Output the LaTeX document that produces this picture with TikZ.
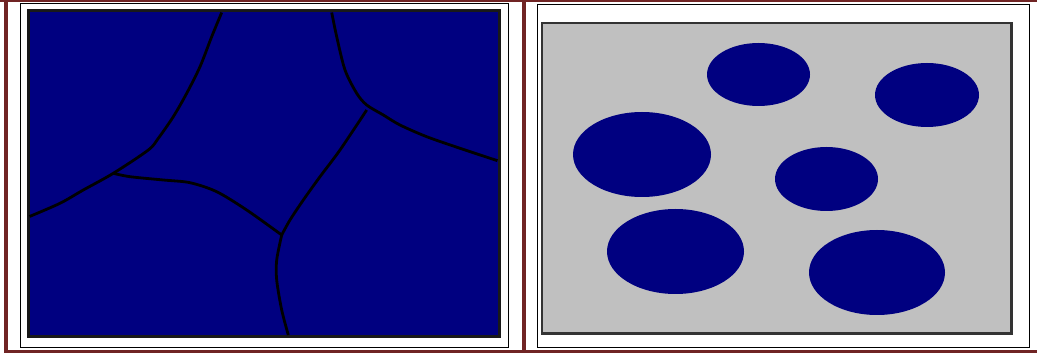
\documentclass[tikz,border=0pt]{standalone}
\usepackage{tikz}
\definecolor{gesztenye}{RGB}{112,36,36}
\definecolor{szemcse}{RGB}{0,0,128}
\definecolor{alap}{RGB}{192,192,192}
\tikzset{
  sav/.style={fill=gesztenye},
  lap/.style={draw=black,fill=white,line width=0.9pt},
  tomb/.style={draw=black!90,fill=szemcse,line width=3pt},
  matr/.style={draw=black!80,fill=alap,line width=2.5pt},
  hatar/.style={draw=black,line width=2.8pt,line join=round},
  resz/.style={fill=szemcse},
}

\begin{document}
\begin{tikzpicture}[x=1pt,y=-1pt]
  \useasboundingbox (0,0) rectangle (1037,358);
  % keret
  \fill[sav] (0,0) rectangle (1037,2.5);
  \fill[sav] (4,0) rectangle (7.5,353);
  \fill[sav] (522,0) rectangle (526,353);
  \fill[sav] (4,350) rectangle (1037,353);
  \begin{scope}
    \draw[lap] (20,3.5) rectangle (508,347.5);
    \draw[tomb] (28,11) rectangle (499,336.5);
    \draw[hatar] plot[smooth,tension=0.5] coordinates {(221.7,12.5) (211.7,36.7) (200,66.7) (186.7,93.3)
      (173.3,116.7) (158.3,138.3) (148.3,150) (113.3,173.3) (83.3,190) (60,203.3) (29.5,216.5)};
    \draw[hatar] plot[smooth,tension=0.5] coordinates {(113.3,173.3) (130,176.7) (163.3,180) (190,182.7)
      (216.7,191.7) (246.7,210) (281.7,235)};
    \draw[hatar] plot[smooth,tension=0.5] coordinates {(281.7,235) (276.7,260) (276.7,280) (281.7,310) (288.3,335)};
    \draw[hatar] plot[smooth,tension=0.5] coordinates {(281.7,235) (290,220) (303.3,200) (320,176.7)
      (340,150) (366.7,110)};
    \draw[hatar] plot[smooth,tension=0.5] coordinates {(331.7,12.5) (336.7,36.7) (345,70) (356.7,93.3)
      (366.7,105) (383.3,115) (400,125) (426.7,136.7) (460,148.3) (497.5,160.7)};
  \end{scope}
  \begin{scope}
    \draw[lap] (537,4) rectangle (1029,347);
    \draw[matr] (542,23) rectangle (1011.5,333.5);
    \fill[resz] (758.5,74.5) ellipse [x radius=51.5pt,y radius=31.5pt];
    \fill[resz] (927,95) ellipse [x radius=52pt,y radius=32pt];
    \fill[resz] (642,154.5) ellipse [x radius=69pt,y radius=42.5pt];
    \fill[resz] (826.5,179) ellipse [x radius=51.5pt,y radius=32pt];
    \fill[resz] (675.5,251.5) ellipse [x radius=68.5pt,y radius=42.5pt];
    \fill[resz] (877,272.5) ellipse [x radius=68pt,y radius=42.5pt];
  \end{scope}
\end{tikzpicture}
\end{document}
